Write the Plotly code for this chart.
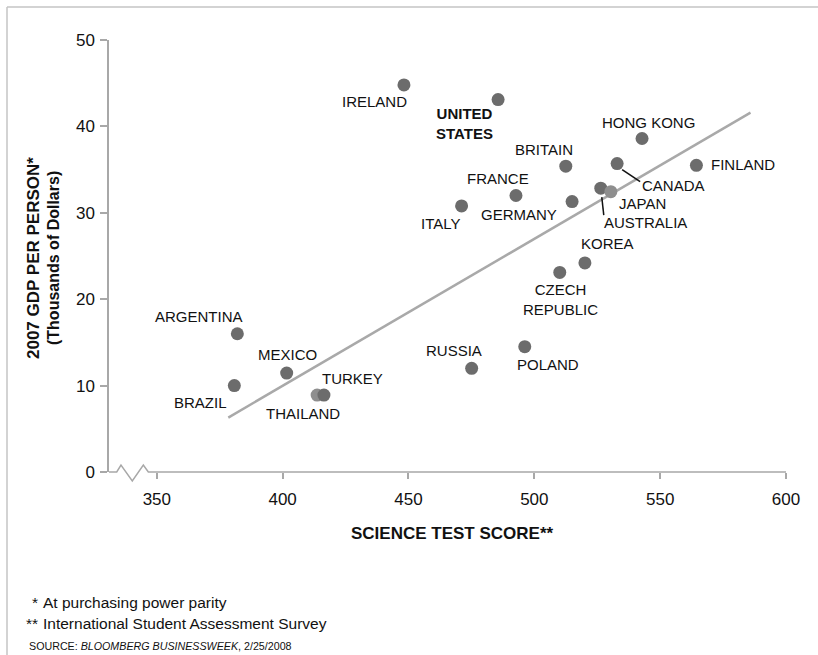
import plotly.graph_objects as go

# ---- data -------------------------------------------------------------
countries = ["IRELAND", "UNITED<br>STATES", "HONG KONG", "BRITAIN", "CANADA",
             "FINLAND", "FRANCE", "GERMANY", "ITALY", "AUSTRALIA", "JAPAN",
             "KOREA", "CZECH<br>REPUBLIC", "ARGENTINA", "MEXICO", "BRAZIL",
             "RUSSIA", "POLAND", "THAILAND", "TURKEY"]
science_score = [448.2, 485.6, 542.8, 512.5, 532.9,
                 564.4, 492.7, 515.0, 471.1, 526.4, 530.4,
                 520.1, 510.1, 382.0, 401.6, 380.8,
                 475.1, 496.2, 413.7, 416.4]
gdp_per_person = [44.8, 43.1, 38.6, 35.4, 35.7,
                  35.5, 32.0, 31.3, 30.8, 32.85, 32.45,
                  24.2, 23.1, 16.0, 11.45, 10.0,
                  12.0, 14.5, 8.9, 8.9]
trend_score = [378.4, 585.9]
trend_gdp = [6.3, 41.6]
x_ticks = [350, 400, 450, 500, 550, 600]
y_ticks = [0, 10, 20, 30, 40, 50]

# ---- page geometry ------------------------------------------------------
W, H = 818, 655
ML, MR, MT, MB = 109, 32, 40, 183
PW, PH = W - ML - MR, H - MT - MB
FONT = "Liberation Sans, Arial, Helvetica, sans-serif"
INK = "#111111"
AXIS = "#a8a8a8"


def px_x(px):
    return (px - ML) / PW


def px_y(py):
    return (H - MB - py) / PH


# label placement relative to each dot (pixels: right, down) and anchor
label_offsets = {
    "IRELAND": (-29, 17, "center"),
    "UNITED<br>STATES": (-34, 24, "center"),
    "HONG KONG": (6, -16, "center"),
    "BRITAIN": (-22, -17, "center"),
    "CANADA": (56, 22, "center"),
    "FINLAND": (13, -1, "left"),
    "FRANCE": (-18, -17, "center"),
    "GERMANY": (-53, 13, "center"),
    "ITALY": (-21, 18, "center"),
    "AUSTRALIA": (45, 34, "center"),
    "JAPAN": (32, 12, "center"),
    "KOREA": (23, -19, "center"),
    "CZECH<br>REPUBLIC": (1, 27, "center"),
    "ARGENTINA": (-38, -17, "center"),
    "MEXICO": (1, -19, "center"),
    "BRAZIL": (-5, 17, "right"),
    "RUSSIA": (-18, -18, "center"),
    "POLAND": (23, 18, "center"),
    "THAILAND": (-14, 18, "center"),
    "TURKEY": (29, -17, "center"),
}
light_dots = {"JAPAN", "THAILAND"}
dot_colors = ["#8e8e8e" if c in light_dots else "#6c6c6c" for c in countries]

fig = go.Figure()

# regression line
fig.add_trace(go.Scatter(
    x=trend_score, y=trend_gdp, mode="lines",
    line=dict(color="#a9a9a9", width=2.5), hoverinfo="skip", showlegend=False))

# country dots
fig.add_trace(go.Scatter(
    x=science_score, y=gdp_per_person, mode="markers",
    marker=dict(size=13, color=dot_colors, line=dict(width=0)),
    text=countries, hoverinfo="text", showlegend=False, cliponaxis=False))

annotations = []
for name, sx, gy in zip(countries, science_score, gdp_per_person):
    dx, dy, anchor = label_offsets[name]
    bold = name.startswith("UNITED")
    annotations.append(dict(
        x=sx, y=gy, xref="x", yref="y", text=f"<b>{name}</b>" if bold else name,
        showarrow=False, xshift=dx, yshift=-dy, xanchor=anchor, yanchor="middle",
        align="center", font=dict(family=FONT, size=15, color=INK)))

# leader lines for the crowded cluster
shapes = []
leaders = {"CANADA": (5, 6, 23, 18), "AUSTRALIA": (1, 9, 3, 27)}
for name, (x0, y0, x1, y1) in leaders.items():
    i = countries.index(name)
    shapes.append(dict(
        type="line", xref="x", yref="y", xsizemode="pixel", ysizemode="pixel",
        xanchor=science_score[i], yanchor=gdp_per_person[i],
        x0=x0, x1=x1, y0=-y0, y1=-y1, line=dict(color=INK, width=1.5)))

# x axis baseline with a break symbol near the origin
zig = [(109, 472), (116.7, 472), (121, 465), (132.3, 481), (143.3, 465),
       (148.3, 472), (786, 472)]
path = "M " + " L ".join(f"{px_x(a):.4f},{px_y(b):.4f}" for a, b in zig)
shapes.append(dict(type="path", xref="paper", yref="paper", path=path,
                   line=dict(color=AXIS, width=1.5)))

# page frame (top and left rules)
shapes.append(dict(type="line", xref="paper", yref="paper",
                   x0=px_x(7), x1=px_x(W + 5), y0=px_y(7), y1=px_y(7),
                   line=dict(color="#c4c4c4", width=1.5)))
shapes.append(dict(type="line", xref="paper", yref="paper",
                   x0=px_x(7), x1=px_x(7), y0=px_y(7), y1=px_y(H + 5),
                   line=dict(color="#c4c4c4", width=1.5)))

# axis titles
annotations.append(dict(
    x=px_x(452), y=px_y(533), xref="paper", yref="paper",
    text="<b>SCIENCE TEST SCORE**</b>", showarrow=False,
    xanchor="center", yanchor="middle",
    font=dict(family=FONT, size=17, color=INK)))
annotations.append(dict(
    x=px_x(33), y=px_y(258), xref="paper", yref="paper", textangle=-90,
    text="<b>2007 GDP PER PERSON*</b>", showarrow=False,
    xanchor="center", yanchor="middle",
    font=dict(family=FONT, size=17, color=INK)))
annotations.append(dict(
    x=px_x(53), y=px_y(258), xref="paper", yref="paper", textangle=-90,
    text="<b>(Thousands of Dollars)</b>", showarrow=False,
    xanchor="center", yanchor="middle",
    font=dict(family=FONT, size=16, color=INK)))

# footnotes and source
notes = [
    ("*", "At purchasing power parity", 602),
    ("**", "International Student Assessment Survey", 623),
]
for mark, text, y in notes:
    annotations.append(dict(
        x=px_x(40), y=px_y(y), xref="paper", yref="paper", text=mark,
        showarrow=False, xanchor="right", yanchor="middle",
        font=dict(family=FONT, size=15.5, color=INK)))
    annotations.append(dict(
        x=px_x(41), y=px_y(y), xref="paper", yref="paper", text=text,
        showarrow=False, xanchor="left", yanchor="middle",
        font=dict(family=FONT, size=15.5, color=INK)))
annotations.append(dict(
    x=px_x(27), y=px_y(646), xref="paper", yref="paper",
    text="SOURCE: <i>BLOOMBERG BUSINESSWEEK</i>, 2/25/2008",
    showarrow=False, xanchor="left", yanchor="middle",
    font=dict(family=FONT, size=10.7, color=INK)))

fig.update_layout(
    width=W, height=H,
    margin=dict(l=ML, r=MR, t=MT, b=MB, pad=0),
    paper_bgcolor="white", plot_bgcolor="white",
    font=dict(family=FONT, color=INK),
    showlegend=False,
    annotations=annotations, shapes=shapes,
    xaxis=dict(range=[331, 600], tickvals=x_ticks, ticks="outside",
               ticklen=6, tickwidth=1.5, tickcolor=AXIS,
               showline=False, showgrid=False, zeroline=False,
               tickfont=dict(family=FONT, size=17, color=INK),
               ticklabelstandoff=6, fixedrange=True),
    yaxis=dict(range=[0, 50], tickvals=y_ticks, ticks="outside",
               ticklen=7, tickwidth=1.5, tickcolor=AXIS,
               showline=True, linecolor=AXIS, linewidth=1.5,
               showgrid=False, zeroline=False,
               tickfont=dict(family=FONT, size=17, color=INK),
               ticklabelstandoff=2, fixedrange=True),
)

fig.write_html("out.html", config={"displayModeBar": False})
